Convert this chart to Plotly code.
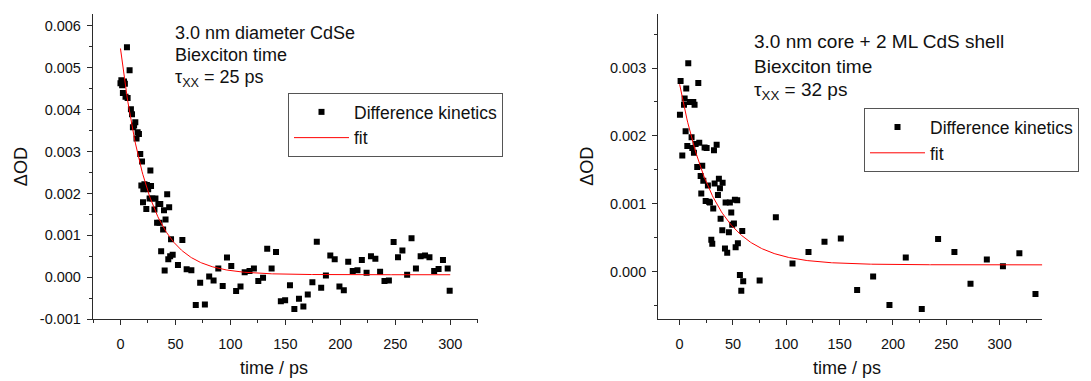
import numpy as np
import plotly.graph_objects as go

# ---- Panel A: 3.0 nm diameter CdSe (delta OD in units of 1e-3) ----
t_core = [0.0, 0.8, 1.5, 2.2, 3.2, 4.0, 4.6, 5.9, 6.5, 8.3, 9.5, 10.5, 11.3, 12.4,
          13.5, 14.6, 15.6, 16.8, 18.0, 19.0, 19.6, 20.5, 20.8, 21.8, 22.5, 23.5,
          24.0, 25.2, 26.5, 27.2, 27.8, 29.0, 30.9, 31.8, 33.3, 34.5, 35.5, 36.2,
          37.0, 38.8, 39.6, 40.2, 41.0, 42.5, 43.5, 44.3, 45.2, 46.0, 47.5, 52.3,
          56.3, 60.2, 64.5, 68.5, 72.5, 76.8, 80.7, 84.7, 89.0, 93.0, 96.9, 100.8,
          105.2, 109.2, 113.0, 117.4, 121.4, 125.4, 129.7, 133.5, 137.5, 141.5,
          145.9, 149.8, 154.2, 158.2, 162.4, 166.4, 170.4, 174.6, 178.6, 182.6,
          186.9, 190.9, 194.9, 199.2, 203.2, 207.2, 211.3, 215.6, 219.6, 223.9,
          227.9, 231.9, 236.2, 240.2, 244.2, 248.5, 252.5, 256.5, 260.8, 264.8,
          268.8, 273.1, 277.1, 281.1, 285.4, 289.4, 293.4, 297.7, 299.5]
od_core = [4.63, 4.70, 4.58, 4.40, 4.67, 4.62, 4.31, 5.49, 4.28, 4.94, 4.01, 3.89,
           3.58, 3.62, 3.70, 3.31, 3.46, 3.42, 2.94, 2.19, 2.76, 1.79, 2.10, 2.22,
           2.12, 1.63, 2.20, 2.10, 1.88, 2.55, 2.18, 1.88, 1.62, 1.88, 1.30, 1.75,
           1.30, 1.75, 0.62, 1.14, 1.60, 0.16, 1.38, 1.98, 0.43, 1.67, 0.50, 0.91,
           0.54, 0.29, 0.89, 0.19, 0.17, -0.66, -0.13, -0.65, 0.02, -0.08, 0.21,
           -0.21, 0.47, 0.27, -0.33, -0.22, 0.12, 0.15, 0.21, -0.09, -0.01, 0.68,
           0.21, 0.60, -0.57, -0.55, -0.19, -0.76, -0.51, -0.70, -0.41, -0.12, 0.85,
           -0.25, 0.04, 0.52, 0.43, -0.22, -0.31, 0.37, 0.15, 0.17, 0.41, 0.11, 0.50,
           0.44, 0.13, -0.09, -0.08, 0.84, 0.48, 0.64, 0.06, 0.93, 0.21, 0.50, 0.52,
           0.48, 0.15, 0.20, 0.41, 0.21, -0.32]

# ---- Panel B: 3.0 nm core + 2 ML CdS shell (delta OD in units of 1e-3) ----
t_shell = [0.3, 0.9, 2.5, 4.1, 4.7, 5.6, 6.2, 7.2, 8.1, 9.7, 11.2, 11.9, 12.8, 13.4,
           14.0, 15.0, 16.5, 17.5, 18.4, 19.7, 20.3, 21.2, 22.2, 23.4, 24.4, 25.3,
           26.5, 27.5, 28.4, 29.7, 30.6, 31.5, 32.2, 32.8, 34.7, 35.9, 36.8, 37.8,
           38.4, 40.0, 40.3, 42.5, 43.1, 44.6, 46.2, 47.1, 48.4, 49.3, 50.9, 51.8,
           52.5, 54.0, 54.6, 56.5, 57.8, 58.7, 59.6, 75.0, 90.2, 105.8, 120.8, 135.8,
           151.1, 166.4, 181.4, 196.7, 212.0, 227.0, 242.3, 257.6, 272.7, 288.0,
           303.1, 318.5, 333.6]
od_shell = [2.31, 2.81, 1.71, 2.46, 2.55, 2.07, 2.70, 1.85, 3.07, 2.50, 1.98, 1.82,
            2.50, 1.75, 2.46, 1.88, 1.54, 2.78, 1.90, 1.41, 1.15, 1.56, 1.34, 1.83,
            1.04, 1.82, 1.27, 1.03, 1.02, 0.47, 0.41, 0.93, 1.79, 1.30, 1.87, 1.13,
            1.37, 1.23, 0.78, 0.61, 1.31, 0.34, 1.02, 0.28, 0.58, 1.02, 0.87, 0.69,
            0.71, 1.06, 0.36, 1.05, 0.42, -0.05, -0.28, 0.60, -0.14, -0.13, 0.80,
            0.12, 0.29, 0.44, 0.49, -0.27, -0.07, -0.49, 0.21, -0.55, 0.48, 0.29,
            -0.18, 0.18, 0.08, 0.27, -0.33]

# Single-exponential fit parameters: y0 + A * exp(-t / tau)
fit_core = dict(y0=0.06e-3, A=5.40e-3, tau=25.0, t_end=300.0)
fit_shell = dict(y0=0.10e-3, A=2.66e-3, tau=32.0, t_end=340.0)

# Tick labels
core_y_ticks = [-0.001, 0.0, 0.001, 0.002, 0.003, 0.004, 0.005, 0.006]
core_y_text = ["-0.001", "0.000", "0.001", "0.002", "0.003", "0.004", "0.005", "0.006"]
shell_y_ticks = [0.0, 0.001, 0.002, 0.003]
shell_y_text = ["0.000", "0.001", "0.002", "0.003"]
x_ticks = [0, 50, 100, 150, 200, 250, 300]

FONT = "Liberation Sans, Arial, sans-serif"
AXIS_COLOR = "#2b2b2b"
W, H = 1091, 381


def px_x(p):
    return p / W


def px_y(p):
    return 1 - p / H


def fit_curve(p):
    t = np.linspace(0, p["t_end"], 400)
    return t, p["y0"] + p["A"] * np.exp(-t / p["tau"])


fig = go.Figure()

fig.add_trace(go.Scatter(
    x=t_core, y=np.array(od_core) * 1e-3, mode="markers", name="Difference kinetics",
    marker=dict(symbol="square", size=6, color="black"),
    xaxis="x", yaxis="y", legend="legend"))
tc, yc = fit_curve(fit_core)
fig.add_trace(go.Scatter(
    x=tc, y=yc, mode="lines", name="fit", line=dict(color="red", width=1),
    xaxis="x", yaxis="y", legend="legend"))

fig.add_trace(go.Scatter(
    x=t_shell, y=np.array(od_shell) * 1e-3, mode="markers", name="Difference kinetics",
    marker=dict(symbol="square", size=6, color="black"),
    xaxis="x2", yaxis="y2", legend="legend2"))
ts, ys = fit_curve(fit_shell)
fig.add_trace(go.Scatter(
    x=ts, y=ys, mode="lines", name="fit", line=dict(color="red", width=1),
    xaxis="x2", yaxis="y2", legend="legend2"))

axis_common = dict(
    showline=True, linecolor=AXIS_COLOR, linewidth=1.3, mirror=False,
    ticks="outside", ticklen=5, tickwidth=1.2, tickcolor=AXIS_COLOR,
    showgrid=False, zeroline=False,
    tickfont=dict(family=FONT, size=14.5, color="#111"),
)


def minor(dtick):
    return dict(tickmode="linear", tick0=0, dtick=dtick, ticklen=3,
                ticks="outside", tickcolor=AXIS_COLOR, showgrid=False)


y_dom = [px_y(326), px_y(14)]

legend_style = dict(xanchor="left", yanchor="top", bordercolor="#555", borderwidth=1,
                    bgcolor="white", itemwidth=55,
                    font=dict(family=FONT, size=17.5, color="#111"))

fig.update_layout(
    width=W, height=H,
    margin=dict(l=0, r=0, t=0, b=0),
    paper_bgcolor="white", plot_bgcolor="white",
    font=dict(family=FONT, color="#111"),
    xaxis=dict(domain=[px_x(93), px_x(477.7)], range=[-25, 325], anchor="y",
               tickmode="array", tickvals=x_ticks, minor=minor(25),
               ticklabelstandoff=6, **axis_common),
    yaxis=dict(domain=y_dom, range=[-0.001, 0.00629], anchor="x",
               tickmode="array", tickvals=core_y_ticks, ticktext=core_y_text,
               minor=minor(0.0005), ticklabelstandoff=3, **axis_common),
    xaxis2=dict(domain=[px_x(658.3), px_x(1042.3)], range=[-20, 340], anchor="y2",
                tickmode="array", tickvals=x_ticks, minor=minor(25),
                ticklabelstandoff=6, **axis_common),
    yaxis2=dict(domain=y_dom, range=[-0.0007, 0.0038], anchor="x2",
                tickmode="array", tickvals=shell_y_ticks, ticktext=shell_y_text,
                minor=minor(0.0005), ticklabelstandoff=3, **axis_common),
    legend=dict(x=px_x(288), y=px_y(95), **legend_style),
    legend2=dict(x=px_x(864), y=px_y(110.5), **legend_style),
    showlegend=True,
)

annotations = []


def text_line(x, y, txt, size):
    annotations.append(dict(
        x=px_x(x), y=px_y(y), xref="paper", yref="paper", text=txt,
        showarrow=False, xanchor="left", yanchor="middle",
        font=dict(family=FONT, size=size, color="#111")))


# Panel A labels
text_line(173, 33.5, "3.0 nm diameter CdSe", 18)
text_line(173, 56, "Biexciton time", 18)
text_line(173, 80, "τ<sub>XX</sub> = %d ps" % fit_core["tau"], 18)
# Panel B labels
text_line(751.7, 42.5, "3.0 nm core + 2 ML CdS shell", 19)
text_line(751.7, 67.5, "Biexciton time", 19)
text_line(751.7, 93, "τ<sub>XX</sub> = %d ps" % fit_shell["tau"], 19)

# Axis titles
for cx in (21.7, 587.3):
    annotations.append(dict(
        x=px_x(cx), y=px_y(170), xref="paper", yref="paper", text="ΔOD",
        textangle=-90, showarrow=False, xanchor="center", yanchor="middle",
        font=dict(family=FONT, size=18, color="#111")))
for cx in (274, 847):
    annotations.append(dict(
        x=px_x(cx), y=px_y(376), xref="paper", yref="paper", text="time / ps",
        showarrow=False, xanchor="center", yanchor="middle",
        font=dict(family=FONT, size=18, color="#111")))

fig.update_layout(annotations=annotations)

fig.write_html("out.html")
